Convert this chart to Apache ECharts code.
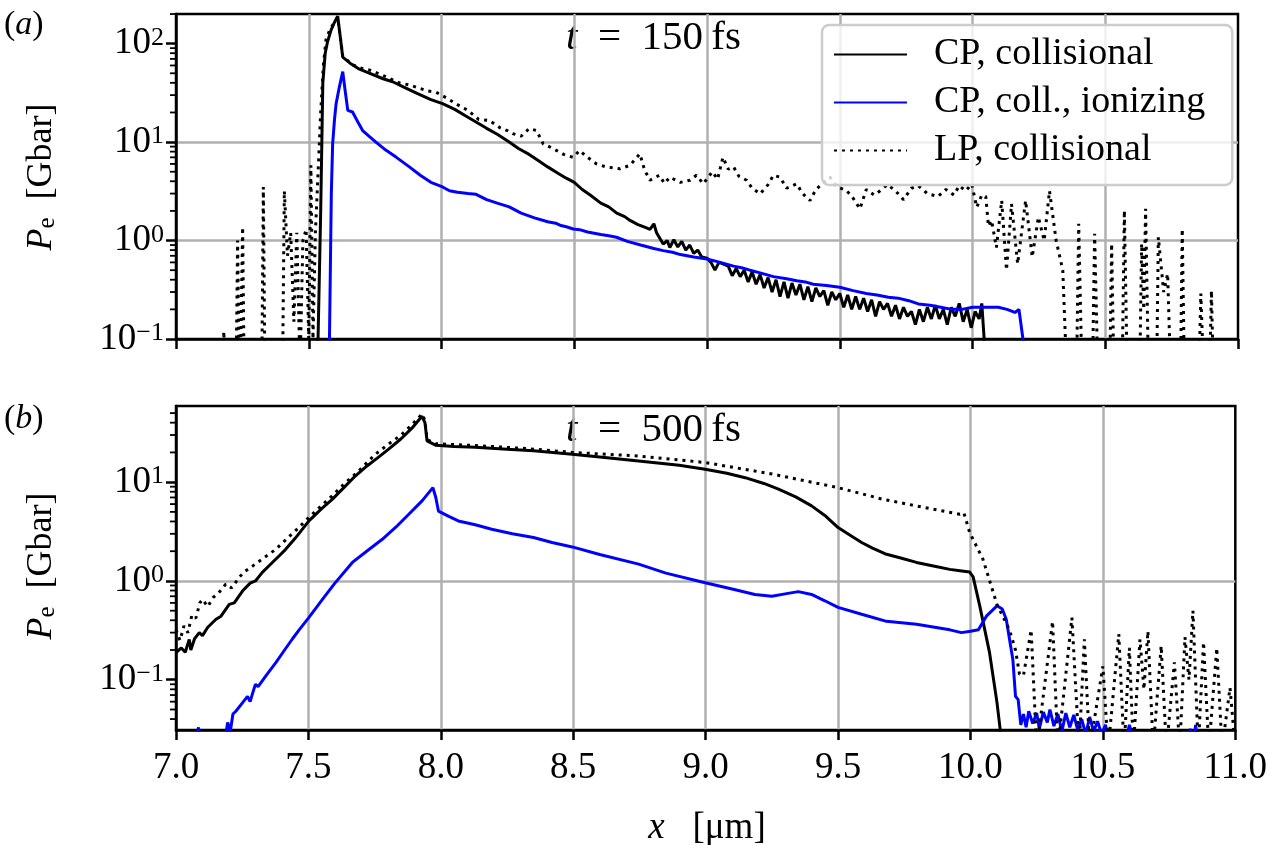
<!DOCTYPE html>
<html>
<head>
<meta charset="utf-8">
<script src="https://cdn.jsdelivr.net/npm/echarts@6/dist/echarts.min.js"></script>
<style>
  html, body { margin: 0; padding: 0; background: #fff; }
  #chart { width: 1270px; height: 845px; }
</style>
</head>
<body>
<div id="chart"></div>
<script>
// ---- data: [x (um), P_e (Gbar)] ----
// panel (a), t = 150 fs
var aCP = [[7.52,0.02],[7.535,0.1],[7.545,2],[7.553,40],[7.562,80],[7.571,105],[7.584,137],[7.597,165],[7.609,190],[7.62,110],[7.628,73],[7.66,62],[7.691,55],[7.73,50],[7.78,44],[7.816,41],[7.86,36],[7.91,31],[7.96,27],[8.004,24.6],[8.05,21.5],[8.09,18.5],[8.13,16],[8.17,13.8],[8.21,12],[8.255,10],[8.29,8.6],[8.33,7.5],[8.36,6.6],[8.40,5.6],[8.44,4.8],[8.47,4.3],[8.50,3.9],[8.53,3.3],[8.56,2.9],[8.6,2.4],[8.63,2.2],[8.66,1.9],[8.69,1.75],[8.71,1.6],[8.74,1.45],[8.77,1.35],[8.785,1.3],[8.80,1.48],[8.81,1.2],[8.835,0.92],[8.85,1.0],[8.86,0.85],[8.875,1.02],[8.89,0.86],[8.905,0.98],[8.92,0.8],[8.935,0.9],[8.95,0.74],[8.965,0.8],[8.98,0.68],[9.0,0.66],[9.015,0.6],[9.03,0.5],[9.045,0.6],[9.06,0.58],[9.08,0.55],[9.095,0.44],[9.11,0.52],[9.125,0.43],[9.14,0.5],[9.155,0.38],[9.17,0.48],[9.185,0.36],[9.2,0.45],[9.215,0.33],[9.23,0.42],[9.245,0.3],[9.26,0.4],[9.275,0.27],[9.29,0.38],[9.305,0.26],[9.32,0.37],[9.335,0.28],[9.35,0.36],[9.365,0.25],[9.38,0.34],[9.395,0.24],[9.41,0.33],[9.425,0.27],[9.44,0.31],[9.455,0.22],[9.47,0.3],[9.485,0.25],[9.5,0.29],[9.515,0.21],[9.53,0.28],[9.545,0.2],[9.56,0.27],[9.575,0.2],[9.59,0.26],[9.605,0.19],[9.62,0.25],[9.635,0.17],[9.65,0.24],[9.665,0.2],[9.68,0.23],[9.695,0.17],[9.71,0.22],[9.725,0.16],[9.74,0.21],[9.755,0.17],[9.77,0.19],[9.785,0.14],[9.80,0.2],[9.815,0.15],[9.83,0.21],[9.845,0.16],[9.86,0.22],[9.875,0.16],[9.89,0.2],[9.905,0.14],[9.92,0.21],[9.935,0.17],[9.95,0.23],[9.965,0.15],[9.98,0.2],[9.995,0.13],[10.01,0.19],[10.025,0.16],[10.035,0.23],[10.045,0.09],[10.05,0.02]];
var aIon = [[7.57,0.02],[7.578,0.1],[7.585,3],[7.59,9.6],[7.597,17],[7.603,24.5],[7.615,36],[7.628,52],[7.636,35],[7.647,21],[7.665,20.2],[7.685,16],[7.703,13.1],[7.73,11.3],[7.753,10],[7.79,8.3],[7.83,7],[7.879,5.6],[7.92,4.6],[7.96,3.9],[8.004,3.5],[8.03,3.2],[8.06,3.1],[8.1,3.0],[8.13,2.95],[8.17,2.6],[8.21,2.4],[8.255,2.2],[8.3,1.9],[8.35,1.7],[8.4,1.55],[8.43,1.5],[8.45,1.42],[8.47,1.38],[8.496,1.31],[8.52,1.29],[8.55,1.22],[8.6,1.15],[8.63,1.12],[8.659,1.08],[8.7,0.98],[8.75,0.9],[8.8,0.83],[8.835,0.79],[8.87,0.76],[8.9,0.72],[8.95,0.68],[9.0,0.65],[9.05,0.6],[9.1,0.55],[9.13,0.53],[9.162,0.5],[9.2,0.47],[9.25,0.43],[9.3,0.41],[9.338,0.39],[9.37,0.38],[9.4,0.36],[9.45,0.35],[9.5,0.335],[9.55,0.31],[9.6,0.29],[9.64,0.28],[9.683,0.265],[9.72,0.26],[9.76,0.245],[9.796,0.227],[9.84,0.22],[9.88,0.21],[9.922,0.2],[9.96,0.2],[10.0,0.21],[10.047,0.21],[10.097,0.21],[10.13,0.2],[10.16,0.186],[10.175,0.2],[10.19,0.1],[10.2,0.02]];
var aLP = [[7.17,0.02],[7.18,0.12],[7.19,0.02],[7.225,0.02],[7.232,1.0],[7.24,0.02],[7.245,0.02],[7.251,1.37],[7.258,0.02],[7.322,0.02],[7.329,3.5],[7.336,0.02],[7.40,0.02],[7.408,3.2],[7.42,0.7],[7.432,1.2],[7.444,0.15],[7.455,1.2],[7.467,0.05],[7.478,1.0],[7.49,1.3],[7.50,0.1],[7.508,5.8],[7.516,0.1],[7.525,1.2],[7.535,4.8],[7.545,20],[7.555,60],[7.565,110],[7.58,140],[7.597,165],[7.609,185],[7.62,110],[7.628,75],[7.66,62],[7.69,57],[7.728,54],[7.76,50],[7.80,45],[7.84,40],[7.88,38],[7.92,35],[7.95,33],[7.98,32],[8.02,28],[8.06,24],[8.10,21],[8.14,17],[8.18,16.6],[8.22,14],[8.25,13],[8.268,12.2],[8.3,11.5],[8.33,13.7],[8.358,13.1],[8.383,9.6],[8.42,8.6],[8.46,7.5],[8.496,7.0],[8.52,8.2],[8.55,7.0],[8.584,6.0],[8.62,5.6],[8.672,5.35],[8.71,5.8],[8.747,7.6],[8.765,5.2],[8.785,4.1],[8.82,4.6],[8.84,3.8],[8.86,4.4],[8.9,3.9],[8.936,4.1],[8.96,4.6],[8.986,3.77],[9.02,5.0],[9.04,4.2],[9.06,7.0],[9.08,5.3],[9.1,5.6],[9.12,4.5],[9.149,4.1],[9.17,3.4],[9.2,2.98],[9.23,3.7],[9.25,4.6],[9.275,4.4],[9.3,3.4],[9.338,3.77],[9.36,3.0],[9.388,2.55],[9.41,3.3],[9.44,3.9],[9.463,4.4],[9.49,3.5],[9.526,3.22],[9.55,2.7],[9.576,2.1],[9.6,3.3],[9.63,2.9],[9.652,3.2],[9.68,3.7],[9.71,3.2],[9.74,2.6],[9.77,3.4],[9.796,3.6],[9.83,3.0],[9.87,2.8],[9.9,3.3],[9.93,2.9],[9.95,3.6],[9.975,3.2],[9.997,3.77],[10.016,2.18],[10.035,2.9],[10.05,2.8],[10.06,1.4],[10.072,1.6],[10.09,0.85],[10.11,2.55],[10.128,0.5],[10.147,2.36],[10.17,0.58],[10.2,2.55],[10.225,0.68],[10.248,1.73],[10.27,1.0],[10.29,3.2],[10.315,1.0],[10.34,0.5],[10.36,0.02],[10.39,0.02],[10.40,1.48],[10.415,0.02],[10.45,0.02],[10.46,1.17],[10.475,0.02],[10.515,0.02],[10.524,0.93],[10.535,0.02],[10.562,0.02],[10.572,2.02],[10.585,0.02],[10.628,0.02],[10.637,0.93],[10.645,0.2],[10.652,2.1],[10.665,0.02],[10.692,0.02],[10.70,1.08],[10.72,0.3],[10.735,0.46],[10.75,0.02],[10.782,0.02],[10.79,1.31],[10.80,0.02],[10.85,0.02],[10.86,0.29],[10.875,0.02],[10.89,0.02],[10.90,0.31],[10.91,0.02]];

// panel (b), t = 500 fs
var bCP = [[7.0,0.188],[7.02,0.21],[7.035,0.19],[7.05,0.256],[7.056,0.2],[7.07,0.26],[7.088,0.30],[7.1,0.28],[7.12,0.34],[7.151,0.41],[7.17,0.44],[7.201,0.58],[7.22,0.6],[7.251,0.79],[7.28,0.95],[7.3,1.0],[7.326,1.22],[7.36,1.5],[7.39,1.8],[7.414,2.09],[7.45,2.7],[7.502,4.05],[7.55,5.4],[7.59,6.7],[7.63,8.6],[7.678,11.6],[7.72,14.5],[7.76,17.5],[7.803,21.6],[7.85,27.5],[7.89,35],[7.929,46.4],[7.94,40],[7.948,26.2],[7.98,23.7],[8.05,23],[8.13,22.5],[8.25,21.5],[8.35,20.8],[8.496,19.2],[8.6,18],[8.747,16.4],[8.9,14.8],[8.998,13.5],[9.08,12.3],[9.149,11.1],[9.22,9.7],[9.275,8.5],[9.34,7.1],[9.4,5.75],[9.45,4.6],[9.5,3.47],[9.55,2.85],[9.589,2.45],[9.63,2.15],[9.683,1.86],[9.74,1.7],[9.796,1.54],[9.86,1.42],[9.922,1.31],[9.96,1.27],[9.997,1.23],[10.01,1.1],[10.035,0.56],[10.072,0.188],[10.10,0.059],[10.113,0.03],[10.12,0.02]];
var bIon = [[7.07,0.02],[7.085,0.033],[7.095,0.02],[7.18,0.02],[7.195,0.037],[7.205,0.03],[7.215,0.045],[7.226,0.048],[7.25,0.058],[7.27,0.068],[7.28,0.06],[7.29,0.074],[7.30,0.09],[7.31,0.085],[7.34,0.11],[7.377,0.149],[7.41,0.2],[7.44,0.26],[7.465,0.32],[7.5,0.42],[7.553,0.65],[7.6,0.95],[7.666,1.54],[7.72,2.0],[7.779,2.64],[7.83,3.5],[7.879,4.73],[7.93,6.5],[7.97,8.8],[7.981,7.0],[7.991,5.1],[8.03,4.5],[8.066,4.05],[8.13,3.7],[8.192,3.34],[8.27,3.0],[8.35,2.75],[8.42,2.45],[8.496,2.21],[8.6,1.85],[8.747,1.48],[8.85,1.2],[8.998,0.96],[9.1,0.83],[9.186,0.73],[9.25,0.70],[9.3,0.74],[9.35,0.78],[9.4,0.73],[9.45,0.63],[9.5,0.54],[9.589,0.46],[9.683,0.39],[9.796,0.365],[9.922,0.32],[9.966,0.30],[10.0,0.31],[10.03,0.32],[10.06,0.44],[10.1,0.56],[10.12,0.52],[10.135,0.41],[10.16,0.16],[10.17,0.068],[10.18,0.063],[10.19,0.035],[10.2,0.045],[10.21,0.033],[10.22,0.048],[10.235,0.036],[10.25,0.046],[10.26,0.032],[10.275,0.047],[10.29,0.037],[10.3,0.05],[10.315,0.034],[10.33,0.045],[10.345,0.03],[10.36,0.046],[10.375,0.033],[10.39,0.044],[10.405,0.031],[10.42,0.04],[10.435,0.028],[10.45,0.042],[10.465,0.03],[10.48,0.038],[10.495,0.028],[10.51,0.035],[10.525,0.02],[10.54,0.03],[10.555,0.02],[10.58,0.02],[10.6,0.035],[10.62,0.02],[10.82,0.02],[10.83,0.032],[10.84,0.02],[10.85,0.035],[10.86,0.02]];
var bLP = [[7.0,0.32],[7.015,0.25],[7.03,0.35],[7.045,0.3],[7.06,0.45],[7.075,0.42],[7.09,0.6],[7.1,0.65],[7.12,0.55],[7.14,0.68],[7.16,0.75],[7.188,0.93],[7.21,0.85],[7.24,1.1],[7.26,1.25],[7.29,1.42],[7.33,1.7],[7.377,2.09],[7.42,2.7],[7.46,3.4],[7.502,4.4],[7.55,5.8],[7.59,7.3],[7.628,9.2],[7.69,13],[7.753,19.2],[7.8,24],[7.85,30],[7.89,38],[7.929,49],[7.94,42],[7.948,27],[7.98,24.5],[8.13,23.5],[8.333,21.8],[8.496,20],[8.747,18.4],[8.998,15.8],[9.25,12.1],[9.5,8.8],[9.67,6.7],[9.796,5.75],[9.96,4.73],[9.975,4.9],[9.997,3.09],[10.047,1.66],[10.10,0.58],[10.147,0.32],[10.17,0.2],[10.185,0.114],[10.2,0.11],[10.229,0.32],[10.25,0.02],[10.31,0.39],[10.33,0.02],[10.383,0.425],[10.41,0.02],[10.43,0.256],[10.45,0.02],[10.50,0.137],[10.52,0.02],[10.56,0.29],[10.58,0.02],[10.6,0.21],[10.615,0.02],[10.64,0.256],[10.655,0.08],[10.67,0.31],[10.69,0.02],[10.72,0.22],[10.74,0.02],[10.77,0.15],[10.79,0.02],[10.81,0.27],[10.825,0.1],[10.84,0.50],[10.86,0.02],[10.88,0.24],[10.9,0.02],[10.93,0.21],[10.95,0.02],[10.98,0.083],[11.0,0.02]];

// axis ticks
var majorA = [0.1, 1, 10, 100];
var majorB = [0.1, 1, 10];
var minorA = [0.2,0.3,0.4,0.5,0.6,0.7,0.8,0.9,2,3,4,5,6,7,8,9,20,30,40,50,60,70,80,90,200];
var minorB = [0.04,0.05,0.06,0.07,0.08,0.09,0.2,0.3,0.4,0.5,0.6,0.7,0.8,0.9,2,3,4,5,6,7,8,9,20,30,40,50];

var names = ['CP, collisional', 'CP, coll., ionizing', 'LP, collisional'];
var FONT = 'Liberation Serif';

function powLabel(v) {
    var e = Math.round(Math.log10(v));
    return '10{s|' + (e < 0 ? '\u2212' + (-e) : e) + '}';
}

function xAxisFor(grid, showLabels) {
    return {
        type: 'value', gridIndex: grid, min: 7, max: 11, interval: 0.5,
        axisLine: { show: true, lineStyle: { color: '#000', width: 2.5 } },
        axisTick: { show: true, inside: false, length: 10, lineStyle: { color: '#000', width: 2.5 } },
        axisLabel: {
            show: showLabels, margin: 20, color: '#000', fontFamily: FONT, fontSize: 37,
            formatter: function (v) { return v.toFixed(1); }
        },
        splitLine: { show: true, showMinLine: false, showMaxLine: false, lineStyle: { color: '#b0b0b0', width: 2.5 } }
    };
}

function yAxisFor(grid, lo, hi, major) {
    return {
        type: 'log', logBase: 10, gridIndex: grid, min: lo, max: hi,
        axisLine: { show: true, lineStyle: { color: '#000', width: 2.5 } },
        axisTick: { show: true, inside: false, length: 10, customValues: major, lineStyle: { color: '#000', width: 2.5 } },
        axisLabel: {
            margin: 12, color: '#000', fontFamily: FONT, fontSize: 37, customValues: major,
            formatter: powLabel,
            rich: { s: { fontFamily: FONT, fontSize: 26, verticalAlign: 'top', color: '#000' } }
        },
        splitLine: { show: true, showMinLine: false, showMaxLine: false, lineStyle: { color: '#b0b0b0', width: 2.5 } }
    };
}

function minorTickItem(params, api) {
    var p = api.coord([api.value(0), api.value(1)]);
    return {
        type: 'line',
        shape: { x1: p[0] - 6, y1: p[1], x2: p[0], y2: p[1] },
        style: { stroke: '#000', lineWidth: 1.8 }
    };
}

function lineSeries(name, data, axis, color, dotted) {
    return {
        name: name, type: 'line', data: data, xAxisIndex: axis, yAxisIndex: axis,
        showSymbol: false, symbol: 'none', clip: true, animation: false,
        lineStyle: { color: color, width: 3, type: dotted ? [3, 5] : 'solid', cap: 'butt' },
        itemStyle: { color: color }
    };
}

var chart = echarts.init(document.getElementById('chart'), null, { renderer: 'canvas' });

var option = {
    backgroundColor: '#fff',
    animation: false,
    textStyle: { fontFamily: FONT },
    grid: [
        { left: 176, top: 14, right: 32, height: 325, show: true, borderColor: '#000', borderWidth: 2.5, backgroundColor: 'transparent' },
        { left: 176, top: 406, right: 32, height: 324, show: true, borderColor: '#000', borderWidth: 2.5, backgroundColor: 'transparent' }
    ],
    xAxis: [xAxisFor(0, false), xAxisFor(1, true)],
    yAxis: [yAxisFor(0, 0.1, 200, majorA), yAxisFor(1, 0.031, 59, majorB)],
    legend: {
        data: names, orient: 'vertical', left: 822, top: 25,
        itemWidth: 73, itemHeight: 14, itemGap: 7,
        padding: [9, 27, 14, 11],
        itemStyle: { opacity: 0 },
        backgroundColor: 'rgba(255,255,255,0.8)', borderColor: '#cccccc', borderWidth: 2.5, borderRadius: 7,
        textStyle: { fontFamily: FONT, fontSize: 38, color: '#000', lineHeight: 41, padding: [0, 0, 0, 22] }
    },
    graphic: [
        { type: 'text', left: 4, top: 8, style: { text: '({i|a})', font: '34px "Liberation Serif"', fill: '#000', rich: { i: { fontStyle: 'italic', fontFamily: FONT, fontSize: 34 } } } },
        { type: 'text', left: 4, top: 402, style: { text: '({i|b})', font: '34px "Liberation Serif"', fill: '#000', rich: { i: { fontStyle: 'italic', fontFamily: FONT, fontSize: 34 } } } },
        { type: 'text', left: 566, top: 18, style: { text: '{i|t}\u2002=\u2002150\u2009fs', font: '41px "Liberation Serif"', fill: '#000', rich: { i: { fontStyle: 'italic', fontFamily: FONT, fontSize: 41 } } } },
        { type: 'text', left: 566, top: 410, style: { text: '{i|t}\u2002=\u2002500\u2009fs', font: '41px "Liberation Serif"', fill: '#000', rich: { i: { fontStyle: 'italic', fontFamily: FONT, fontSize: 41 } } } },
        { type: 'text', x: 42, y: 177, rotation: Math.PI / 2, style: { text: '{i|P}{e|e}  [Gbar]', align: 'center', verticalAlign: 'middle', font: '36px "Liberation Serif"', fill: '#000', rich: { i: { fontStyle: 'italic', fontFamily: FONT, fontSize: 36 }, e: { fontFamily: FONT, fontSize: 25, verticalAlign: 'bottom' } } } },
        { type: 'text', x: 42, y: 566, rotation: Math.PI / 2, style: { text: '{i|P}{e|e}  [Gbar]', align: 'center', verticalAlign: 'middle', font: '36px "Liberation Serif"', fill: '#000', rich: { i: { fontStyle: 'italic', fontFamily: FONT, fontSize: 36 }, e: { fontFamily: FONT, fontSize: 25, verticalAlign: 'bottom' } } } },
        { type: 'text', x: 707, y: 828, style: { text: '{i|x}   [\u03bcm]', align: 'center', verticalAlign: 'middle', font: '37px "Liberation Serif"', fill: '#000', rich: { i: { fontStyle: 'italic', fontFamily: FONT, fontSize: 37 } } } }
    ],
    series: [
        lineSeries(names[0], aCP, 0, '#000000', false),
        lineSeries(names[1], aIon, 0, '#0000ff', false),
        lineSeries(names[2], aLP, 0, '#000000', true),
        lineSeries(names[0], bCP, 1, '#000000', false),
        lineSeries(names[1], bIon, 1, '#0000ff', false),
        lineSeries(names[2], bLP, 1, '#000000', true),
        {
            type: 'custom', xAxisIndex: 0, yAxisIndex: 0, clip: false, silent: true, z: 5,
            data: minorA.map(function (v) { return [7, v]; }), renderItem: minorTickItem
        },
        {
            type: 'custom', xAxisIndex: 1, yAxisIndex: 1, clip: false, silent: true, z: 5,
            data: minorB.map(function (v) { return [7, v]; }), renderItem: minorTickItem
        }
    ]
};

chart.setOption(option);
</script>
</body>
</html>
